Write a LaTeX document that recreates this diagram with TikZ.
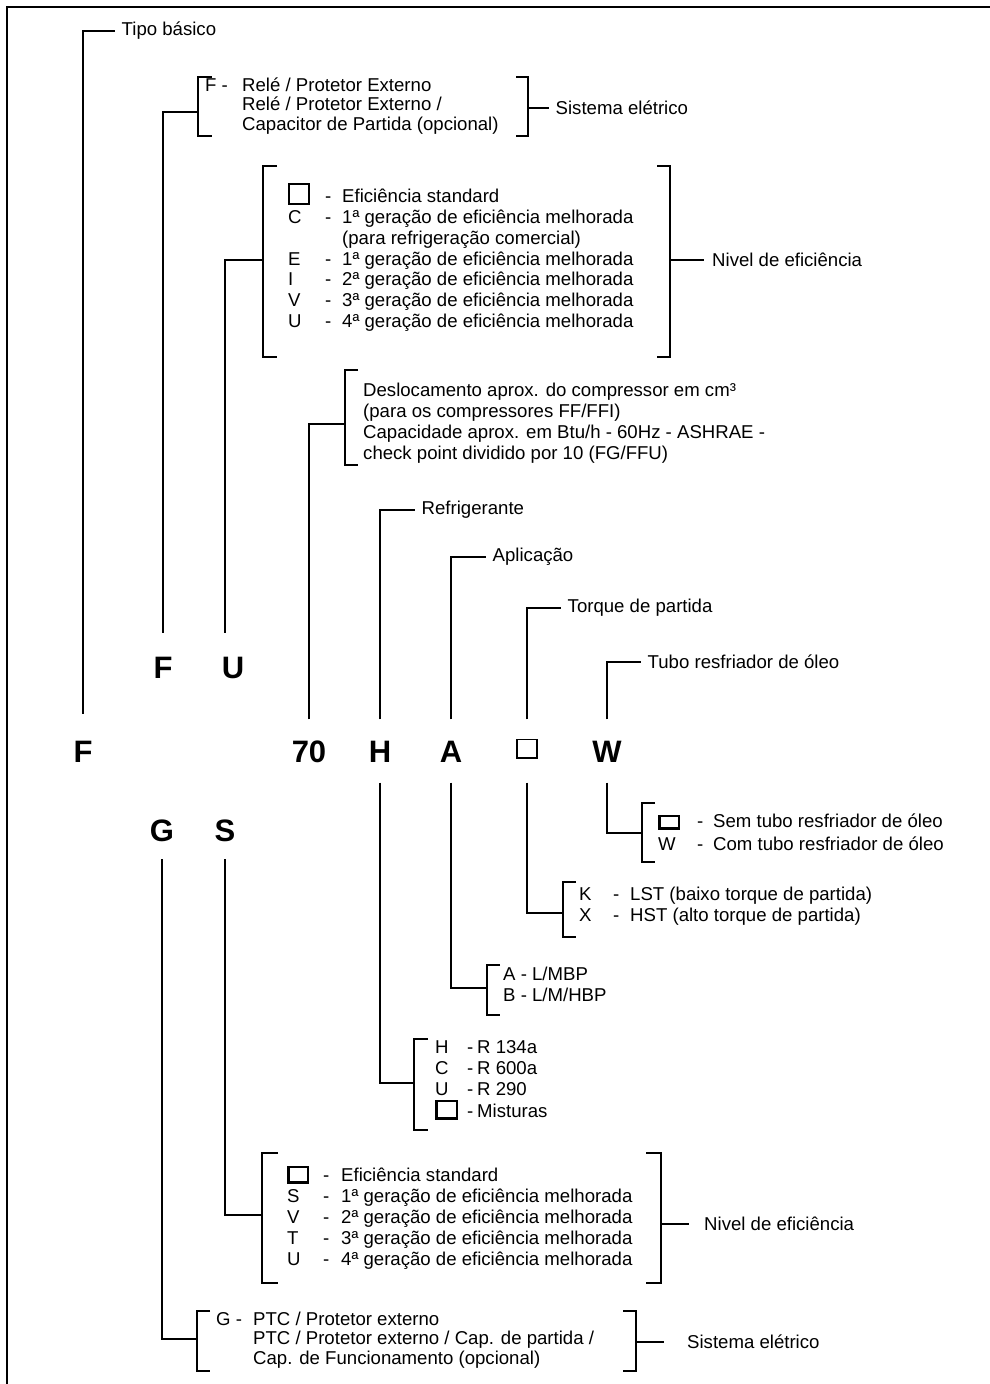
\documentclass[tikz,border=0pt]{standalone}
\usepackage{fontspec}
\setmainfont{Liberation Sans}

\newcommand{\codebox}[3]{{\setlength{\fboxsep}{0pt}\setlength{\fboxrule}{#3}\fbox{\rule{0pt}{#2}\rule{#1}{0pt}}}}

\tikzset{
    code/.style={font=\fontsize{31}{31}\selectfont\bfseries, inner sep=0pt, text height=23pt, text depth=0pt, minimum height=63pt},
    lbl/.style={anchor=west, inner xsep=6.5pt, inner ysep=0pt},
    blk/.style={anchor=west, inner sep=0pt},
    wire/.style={line width=1.1pt}
}

\begin{document}
\begin{tikzpicture}[x=1pt, y=-1pt, font=\fontsize{18.6}{20.8}\selectfont]

            %\draw [help lines] (0,0) grid (990,1384);
            \useasboundingbox (0,0) rectangle (990,1384);
            \draw[line width=2.5pt] (990,7) -- (7,7) -- (7,1384);

            % code letters
            \path   (83,751) node (fbig) [code, minimum height=74pt] {F}
                    (163,667) node (fsm) [code, minimum height=68pt] {F}
                    (233,667) node (usm) [code, minimum height=68pt] {U}
                    (309,751) node (sevent) [code] {70}
                    (380,751) node (hcod) [code] {H}
                    (451,751) node (acod) [code] {A}
                    (527,751) node (tcod) [code] {\raisebox{5.5pt}{\codebox{18.8pt}{16.8pt}{1.6pt}}}
                    (607,751) node (wcod) [code] {W}
                    (162,830) node (gsm) [code, minimum height=58pt] {G}
                    (225,830) node (ssm) [code, minimum height=58pt] {S};

            % labels
            \path   (115,31) node (tipo) [lbl] {Tipo básico}
                    (415,510) node (refr) [lbl] {Refrigerante}
                    (486,557) node (aplic) [lbl] {Aplicação}
                    (561,608) node (torq) [lbl] {Torque de partida}
                    (641,662) node (tubo) [lbl] {Tubo resfriador de óleo}
                    (549,108) node (sisTop) [lbl] {Sistema elétrico}
                    (704,260) node (nivTop) [lbl, inner xsep=8pt] {Nivel de eficiência}
                    (689,1224) node (nivBot) [lbl, inner xsep=15pt] {Nivel de eficiência}
                    (664,1342) node (sisBot) [lbl, inner xsep=23pt] {Sistema elétrico};

            % option lists
            \path   (205,107) node (feBlk) [blk] {\renewcommand{\arraystretch}{0.94}\begin{tabular}{@{}p{37pt}@{}l@{}}
                        F - & Relé / Protetor Externo\\
                            & Relé / Protetor Externo /\\
                            & Capacitor de Partida (opcional)
                    \end{tabular}}
                    (288,261) node (efTop) [blk] {\begin{tabular}{@{}p{37pt}@{}p{17pt}@{}l@{}}
                        \smash{\codebox{17.6pt}{17.6pt}{2.2pt}} & - & Eficiência standard\\
                        C & - & 1ª geração de eficiência melhorada\\
                          &   & (para refrigeração comercial)\\
                        E & - & 1ª geração de eficiência melhorada\\
                        I & - & 2ª geração de eficiência melhorada\\
                        V & - & 3ª geração de eficiência melhorada\\
                        U & - & 4ª geração de eficiência melhorada
                    \end{tabular}}
                    (363,424) node (sevBlk) [blk] {\begin{tabular}{@{}l@{}}
                        Deslocamento aprox. do compressor em cm³\\
                        (para os compressores FF/FFI)\\
                        Capacidade aprox. em Btu/h - 60Hz - ASHRAE -\\
                        check point dividido por 10 (FG/FFU)
                    \end{tabular}}
                    (658,834) node (wBlk) [blk] {\renewcommand{\arraystretch}{1.1}\begin{tabular}{@{}p{39pt}@{}p{16pt}@{}l@{}}
                        \smash{\codebox{17pt}{10pt}{2.5pt}} & - & Sem tubo resfriador de óleo\\
                        W & - & Com tubo resfriador de óleo
                    \end{tabular}}
                    (579,907) node (kBlk) [blk] {\begin{tabular}{@{}p{34pt}@{}p{17pt}@{}l@{}}
                        K & - & LST (baixo torque de partida)\\
                        X & - & HST (alto torque de partida)
                    \end{tabular}}
                    (503,987) node (aBlk) [blk] {\begin{tabular}{@{}l@{}}
                        A - L/MBP\\
                        B - L/M/HBP
                    \end{tabular}}
                    (435,1081) node (hBlk) [blk] {\renewcommand{\arraystretch}{1.024}\begin{tabular}{@{}p{32pt}@{}p{10pt}@{}l@{}}
                        H & - & R 134a\\
                        C & - & R 600a\\
                        U & - & R 290\\
                        \smash{\codebox{18pt}{15pt}{2.5pt}} & - & Misturas
                    \end{tabular}}
                    (287,1219) node (efBot) [blk] {\renewcommand{\arraystretch}{1.01}\begin{tabular}{@{}p{36pt}@{}p{18pt}@{}l@{}}
                        \smash{\codebox{17pt}{13pt}{2.5pt}} & - & Eficiência standard\\
                        S & - & 1ª geração de eficiência melhorada\\
                        V & - & 2ª geração de eficiência melhorada\\
                        T & - & 3ª geração de eficiência melhorada\\
                        U & - & 4ª geração de eficiência melhorada
                    \end{tabular}}
                    (216,1341) node (gBlk) [blk] {\renewcommand{\arraystretch}{0.94}\begin{tabular}{@{}p{37pt}@{}l@{}}
                        G - & PTC / Protetor externo\\
                            & PTC / Protetor externo / Cap. de partida /\\
                            & Cap. de Funcionamento (opcional)
                    \end{tabular}};

            % brackets
            \draw[wire] (212,77) -| (198,136) -- (212,136);
            \draw[wire] (516,77) -| (528,136) -- (516,136);
            \draw[wire] (277,166) -| (263,357) -- (277,357);
            \draw[wire] (657,166) -| (670,357) -- (657,357);
            \draw[wire] (358,370) -| (345,465) -- (358,465);
            \draw[wire] (655,803) -| (642,862) -- (655,862);
            \draw[wire] (576,882) -| (563,937) -- (576,937);
            \draw[wire] (500,965) -| (487,1015) -- (500,1015);
            \draw[wire] (428,1039) -| (414,1130) -- (428,1130);
            \draw[wire] (278,1153) -| (262,1283) -- (278,1283);
            \draw[wire] (646,1153) -| (661,1283) -- (646,1283);
            \draw[wire] (210,1311) -| (197,1371) -- (210,1371);
            \draw[wire] (623,1311) -| (636,1371) -- (623,1371);

            \coordinate (feL) at (198,112);
            \coordinate (feR) at (528,108);
            \coordinate (efL) at (263,260);
            \coordinate (efR) at (670,260);
            \coordinate (sevL) at (345,424);
            \coordinate (wL) at (642,833);
            \coordinate (kL) at (563,913);
            \coordinate (aL) at (487,988);
            \coordinate (hL) at (414,1083);
            \coordinate (ebL) at (262,1215);
            \coordinate (ebR) at (661,1224);
            \coordinate (gL) at (197,1339);
            \coordinate (gR) at (636,1342);

            % connectors
            \draw[wire] (fbig.north) |- (tipo.west);
            \draw[wire] (fsm.north) |- (feL);
            \draw[wire] ([xshift=-8pt]usm.north) |- (efL);
            \draw[wire] (sevent.north) |- (sevL);
            \draw[wire] (hcod.north) |- (refr.west);
            \draw[wire] (acod.north) |- (aplic.west);
            \draw[wire] (tcod.north) |- (torq.west);
            \draw[wire] (wcod.north) |- (tubo.west);
            \draw[wire] (wcod.south) |- (wL);
            \draw[wire] (tcod.south) |- (kL);
            \draw[wire] (acod.south) |- (aL);
            \draw[wire] (hcod.south) |- (hL);
            \draw[wire] (ssm.south) |- (ebL);
            \draw[wire] (gsm.south) |- (gL);
            \draw[wire] (feR) -- (sisTop.west);
            \draw[wire] (efR) -- (nivTop.west);
            \draw[wire] (ebR) -- (nivBot.west);
            \draw[wire] (gR) -- (sisBot.west);

\end{tikzpicture}
\end{document}
